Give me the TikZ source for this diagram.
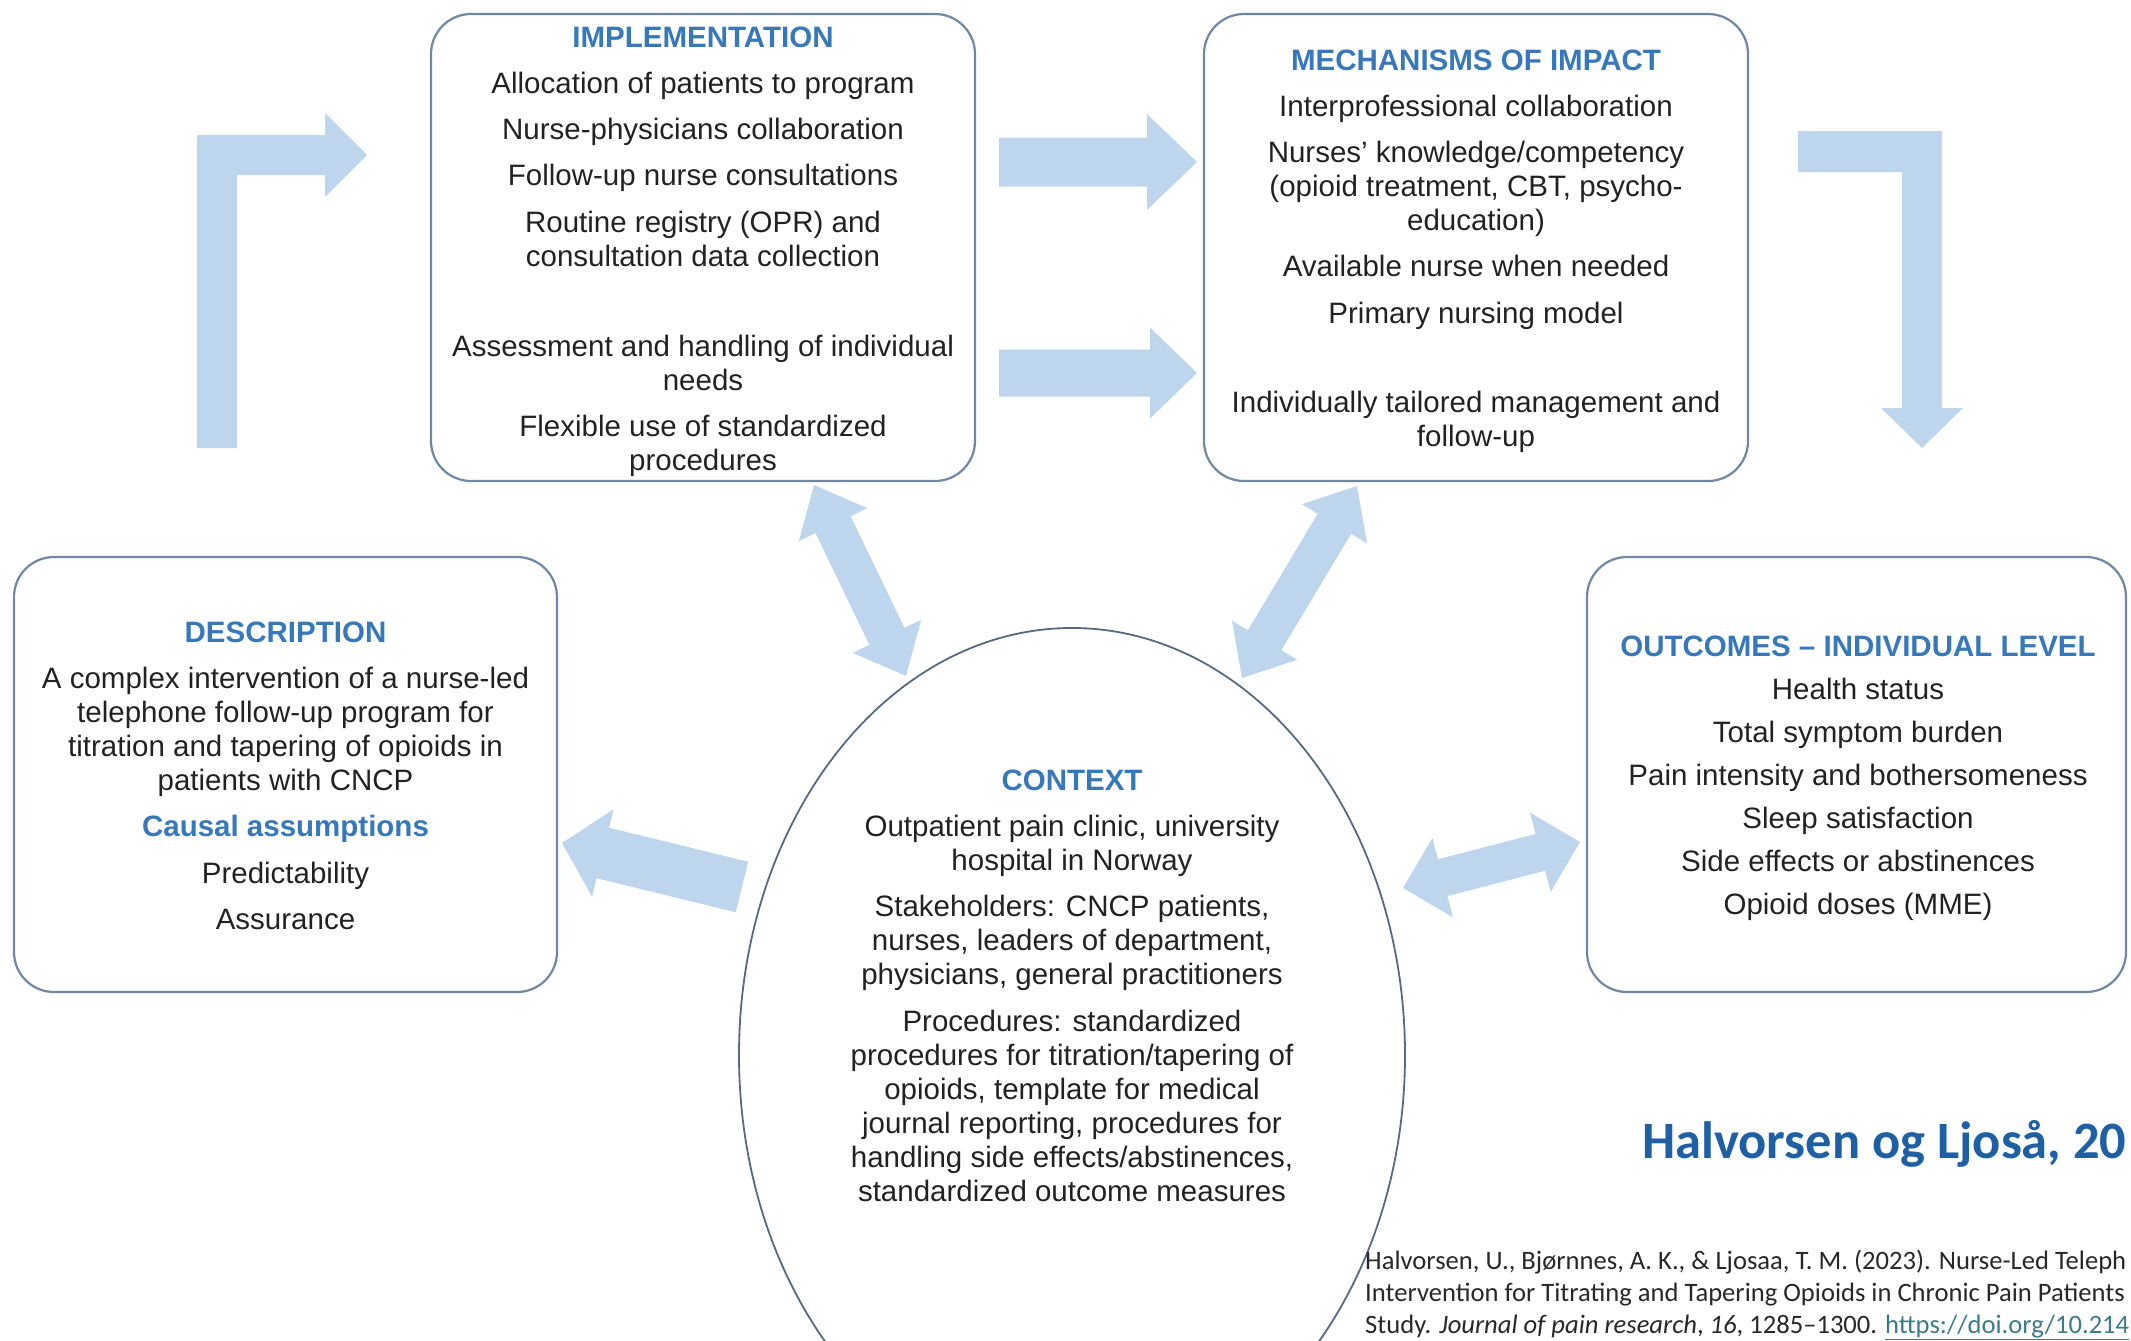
\documentclass[tikz,border=0pt]{standalone}
\usepackage{fontspec}
\setmainfont{Liberation Sans}
\newfontfamily\calib{Carlito}
\usetikzlibrary{calc,shapes.geometric}
\definecolor{arrowblue}{RGB}{189,214,238}
\definecolor{titleblue}{RGB}{55,120,186}
\definecolor{boxline}{RGB}{112,136,164}
\definecolor{circline}{RGB}{88,106,130}
\definecolor{bodytext}{RGB}{34,34,34}
\definecolor{citeblue}{RGB}{31,96,165}
\definecolor{citetext}{RGB}{40,40,40}
\definecolor{linkteal}{RGB}{62,122,140}
\newcommand{\boxtitle}[1]{{\bfseries\color{titleblue}#1}}
% block arrow: tail, tip, shaft half width, head half width, head length
\newcommand{\blockarrow}[5]{%
  \coordinate (bah) at ($(#2)!#5!(#1)$);
  \fill[arrowblue] ($(#1)!#3!90:(#2)$) -- ($(bah)!#3!90:(#2)$) -- ($(bah)!#4!90:(#2)$) -- (#2)
    -- ($(bah)!#4!-90:(#2)$) -- ($(bah)!#3!-90:(#2)$) -- ($(#1)!#3!-90:(#2)$) -- cycle;}
% double block arrow: end A, end B, shaft half width, head half width, head length
\newcommand{\dblarrow}[5]{%
  \coordinate (dba) at ($(#1)!#5!(#2)$);
  \coordinate (dbb) at ($(#2)!#5!(#1)$);
  \fill[arrowblue] (#1) -- ($(dba)!#4!90:(#2)$) -- ($(dba)!#3!90:(#2)$) -- ($(dbb)!#3!90:(#2)$)
    -- ($(dbb)!#4!90:(#2)$) -- (#2) -- ($(dbb)!#4!-90:(#2)$) -- ($(dbb)!#3!-90:(#2)$)
    -- ($(dba)!#3!-90:(#2)$) -- ($(dba)!#4!-90:(#2)$) -- cycle;}
\tikzset{
  box/.style={draw=boxline, line width=2.2pt, rounded corners=40pt, fill=white, inner sep=0pt},
  ctxshape/.style={draw=circline, line width=1.8pt, ellipse, fill=white, inner sep=0pt},
  txt/.style={align=center, inner sep=0pt, text=bodytext, font=\fontsize{29.5}{34}\selectfont},
  cite/.style={inner sep=0pt, anchor=base west, text=citetext, font=\calib\fontsize{26.6}{32}\selectfont}
}
\begin{document}
\begin{tikzpicture}[x=1pt, y=-1pt]
\useasboundingbox (0,0) rectangle (2131,1341);
\clip (0,0) rectangle (2131,1341);
\fill[white] (0,0) rectangle (2131,1341);

% boxes
\node[box, minimum width=544pt, minimum height=467pt] (impl) at (703,247.5) {};
\node[box, minimum width=544pt, minimum height=467pt] (mech) at (1476,247.5) {};
\node[box, minimum width=543pt, minimum height=435pt] (desc) at (285.5,774.5) {};
\node[box, minimum width=539pt, minimum height=435pt] (outc) at (1856.5,774.5) {};
\node[ctxshape, minimum width=666pt, minimum height=854pt] (ctx) at (1072,1055) {};

% bent arrows
\fill[arrowblue] (197,448) -- (197,135) -- (325,135) -- (325,113) -- (367,155) -- (325,197)
  -- (325,175) -- (237,175) -- (237,448) -- cycle;
\fill[arrowblue] (1798,131) -- (1942,131) -- (1942,408) -- (1963,408) -- (1922,448)
  -- (1881,408) -- (1902,408) -- (1902,172) -- (1798,172) -- cycle;

% straight arrows
\coordinate (a1s) at (999,162);  \coordinate (a1e) at (1197,162);
\coordinate (a2s) at (999,373);  \coordinate (a2e) at (1197,373);
\blockarrow{a1s}{a1e}{24.5pt}{48pt}{50pt}
\blockarrow{a2s}{a2e}{23.5pt}{45.5pt}{47pt}

\coordinate (d1a) at (814,485);  \coordinate (d1b) at (906,676);
\coordinate (d2a) at (1357,486); \coordinate (d2b) at (1242,678);
\dblarrow{d1a}{d1b}{19.5pt}{38pt}{44pt}
\dblarrow{d2a}{d2b}{19.5pt}{38pt}{44pt}

\coordinate (l1s) at (742,887);  \coordinate (l1e) at (562,843);
\blockarrow{l1s}{l1e}{26pt}{45pt}{42pt}

\coordinate (d3a) at (1403,888); \coordinate (d3b) at (1580,842);
\dblarrow{d3a}{d3b}{19pt}{41pt}{41pt}

% texts
\node[txt, anchor=north] (impltext) at (703,26.5) {\boxtitle{IMPLEMENTATION}\\[12pt]
 Allocation of patients to program\\[12pt]
 Nurse-physicians collaboration\\[12pt]
 Follow-up nurse consultations\\[13pt]
 Routine registry (OPR) and\\
 consultation data collection\\[56pt]
 Assessment and handling of individual\\
 needs\\[12pt]
 Flexible use of standardized\\
 procedures};

\node[txt, anchor=north] (mechtext) at (1476,49.5) {\boxtitle{MECHANISMS OF IMPACT}\\[12pt]
 Interprofessional collaboration\\[12pt]
 Nurses’ knowledge/competency\\
 (opioid treatment, CBT, psycho-\\
 education)\\[12pt]
 Available nurse when needed\\[13pt]
 Primary nursing model\\[55pt]
 Individually tailored management and\\
 follow-up};

\node[txt, anchor=north] (desctext) at (285.5,621.5) {\boxtitle{DESCRIPTION}\\[12pt]
 A complex intervention of a nurse-led\\
 telephone follow-up program for\\
 titration and tapering of opioids in\\
 patients with CNCP\\[12pt]
 \boxtitle{Causal assumptions}\\[13pt]
 Predictability\\[12pt]
 Assurance};

\node[txt, anchor=north] (outctext) at (1858,635.5) {\boxtitle{OUTCOMES – INDIVIDUAL LEVEL}\\[9pt]
 Health status\\[9pt]
 Total symptom burden\\[9pt]
 Pain intensity and bothersomeness\\[9pt]
 Sleep satisfaction\\[9pt]
 Side effects or abstinences\\[9pt]
 Opioid doses (MME)};

\node[txt, anchor=north] (ctxtext) at (1072,769.5) {\boxtitle{CONTEXT}\\[12pt]
 Outpatient pain clinic, university\\
 hospital in Norway\\[12pt]
 Stakeholders: CNCP patients,\\
 nurses, leaders of department,\\
 physicians, general practitioners\\[13pt]
 Procedures: standardized\\
 procedures for titration/tapering of\\
 opioids, template for medical\\
 journal reporting, procedures for\\
 handling side effects/abstinences,\\
 standardized outcome measures};

% citation (cut at the right edge as in the source)
\node[inner sep=0pt, anchor=base west, text=citeblue, font=\calib\bfseries\fontsize{52.5}{60}\selectfont] (ref) at (1642,1158) {Halvorsen og Ljoså, 20};
\node[cite] (c1) at (1365,1269) {Halvorsen, U., Bjørnnes, A. K., \& Ljosaa, T. M. (2023). Nurse-Led Teleph};
\node[cite] (c2) at (1365,1301) {Intervention for Titrating and Tapering Opioids in Chronic Pain Patients};
\node[cite] (c3) at (1365,1333) {Study. \textit{Journal of pain research}, \textit{16}, 1285–1300. {\color{linkteal}\underline{https://doi.org/10.214}}};
\end{tikzpicture}
\end{document}
